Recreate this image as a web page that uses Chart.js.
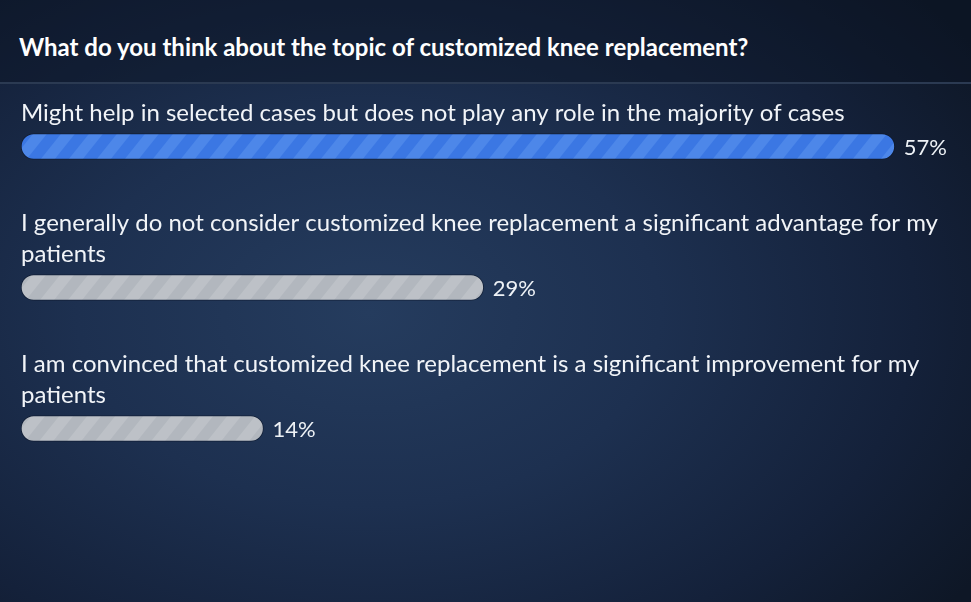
<!DOCTYPE html>
<html>
<head>
<meta charset="utf-8">
<script src="https://cdn.jsdelivr.net/npm/chart.js@4.4.1/dist/chart.umd.min.js"></script>
<style>
  html,body{margin:0;padding:0;width:971px;height:602px;overflow:hidden}
  body{background:radial-gradient(ellipse 75% 80% at 38% 52%, #253c5e 0%, #1d3050 40%, #14213a 75%, #0e1726 100%);font-family:Lato,sans-serif}
  #head{position:absolute;left:0;top:0;width:971px;height:82px;background:rgba(12,20,36,0.45);border-bottom:2px solid #2b3a52}
  #head h1{margin:0;position:absolute;left:19px;top:32px;font:700 24px Lato,sans-serif;color:#ffffff;letter-spacing:0}
  #wrap{position:absolute;left:0;top:0;width:971px;height:602px}
</style>
</head>
<body>
<div id="head"><h1>What do you think about the topic of customized knee replacement?</h1></div>
<div id="wrap"><canvas id="chart" width="971" height="602"></canvas></div>
<script>
// poll answers, one array of lines per answer
const answers = [
  ['Might help in selected cases but does not play any role in the majority of cases'],
  ['I generally do not consider customized knee replacement a significant advantage for my', 'patients'],
  ['I am convinced that customized knee replacement is a significant improvement for my', 'patients']
];
const shares = [57, 29, 14];
const shareLabels = ['57%', '29%', '14%'];

// striped fill like the poll widget
function stripes(base, stripe){
  const c = document.createElement('canvas'); c.width = 28; c.height = 35;
  const g = c.getContext('2d');
  g.fillStyle = base; g.fillRect(0,0,28,35);
  g.fillStyle = stripe;
  for(let k=-1;k<=1;k++){
    g.beginPath();
    g.moveTo(k*28, 35); g.lineTo(k*28+14, 35); g.lineTo(k*28+42, 0); g.lineTo(k*28+28, 0);
    g.closePath(); g.fill();
  }
  return g.createPattern(c, 'repeat');
}
const ctx = document.getElementById('chart').getContext('2d');
const fills = [stripes('#3b77e3', '#4d87e9'), stripes('#b2b7be', '#bdc1c7'), stripes('#b2b7be', '#bdc1c7')];

// answer text above bars, share to the right
const textPlugin = {
  id: 'pollText',
  afterDatasetsDraw(chart){
    const c = chart.ctx;
    const bars = chart.getDatasetMeta(0).data;
    c.save();
    c.textBaseline = 'middle';
    bars.forEach((bar, i) => {
      const lines = answers[i];
      c.font = '400 24px Lato, sans-serif';
      c.fillStyle = '#f1f4f8';
      c.textAlign = 'left';
      lines.forEach((ln, j) => {
        const y = bar.y - 33 - (lines.length - 1 - j) * 31;
        c.fillText(ln, bar.base, y);
      });
      c.font = '400 22px Lato, sans-serif';
      c.fillStyle = '#eef2f6';
      c.fillText(shareLabels[i], bar.x + 9, bar.y + 1);
    });
    c.restore();
  }
};

new Chart(ctx, {
  type: 'bar',
  data: {
    labels: answers.map(a => a.join(' ')),
    datasets: [{
      data: shares,
      base: -2.52,
      backgroundColor: fills,
      borderColor: 'rgba(14,24,42,0.6)',
      borderWidth: 1,
      borderRadius: 13,
      borderSkipped: false,
      barThickness: 26
    }]
  },
  options: {
    indexAxis: 'y',
    responsive: false,
    animation: false,
    layout: { padding: { left: 21, right: 21, top: 76, bottom: 103 } },
    plugins: { legend: { display: false }, tooltip: { enabled: false }, title: { display: false } },
    scales: {
      x: { display: false, min: -2.52, max: 60.76 },
      y: { display: false }
    }
  },
  plugins: [textPlugin]
});
</script>
</body>
</html>
